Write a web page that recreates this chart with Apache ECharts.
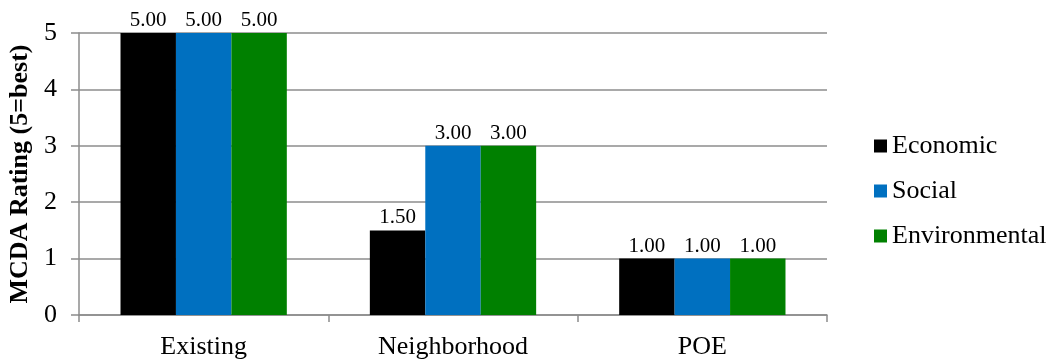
<!DOCTYPE html>
<html>
<head>
<meta charset="utf-8">
<script src="https://cdn.jsdelivr.net/npm/echarts@6/dist/echarts.min.js"></script>
<style>
  html, body { margin: 0; padding: 0; background: #fff; }
  #chart { width: 1050px; height: 362px; }
</style>
</head>
<body>
<div id="chart"></div>
<script>
// Scenario categories and MCDA ratings per sustainability dimension
const categories = ['Existing', 'Neighborhood', 'POE'];
const economic = [5.0, 1.5, 1.0];
const social = [5.0, 3.0, 1.0];
const environmental = [5.0, 3.0, 1.0];
const seriesNames = ['Economic', 'Social', 'Environmental'];
const seriesColors = ['#000000', '#0070C0', '#008000'];

const serif = '"Liberation Serif", "Times New Roman", serif';
const gridGray = '#8c8c8c';

function barSeries(name, data, color) {
  return {
    name: name,
    type: 'bar',
    data: data,
    barGap: '0%',
    barCategoryGap: '33.3%',
    itemStyle: { color: color },
    label: {
      show: true,
      position: 'top',
      distance: 2,
      fontFamily: serif,
      fontSize: 21,
      color: '#000',
      formatter: p => p.value.toFixed(2)
    }
  };
}

const chart = echarts.init(document.getElementById('chart'), null, { renderer: 'canvas' });
chart.setOption({
  animation: false,
  backgroundColor: '#fff',
  textStyle: { fontFamily: serif, color: '#000' },
  grid: {
    left: 79, right: 223, top: 33, bottom: 47,
    containLabel: false,
    outerBoundsMode: 'none'
  },
  legend: {
    orient: 'vertical',
    left: 869,
    top: 128,
    itemWidth: 13,
    itemHeight: 13,
    itemGap: 19,
    icon: 'rect',
    textStyle: { fontFamily: serif, fontSize: 26, color: '#000' },
    data: seriesNames
  },
  xAxis: {
    type: 'category',
    data: categories,
    axisLine: { lineStyle: { color: gridGray, width: 1.5 } },
    axisTick: { show: true, length: 7, inside: false, lineStyle: { color: gridGray, width: 1.5 } },
    axisLabel: { fontFamily: serif, fontSize: 26, color: '#000', margin: 19 }
  },
  yAxis: {
    type: 'value',
    min: 0,
    max: 5,
    interval: 1,
    name: 'MCDA Rating (5=best)',
    nameLocation: 'middle',
    nameGap: 44,
    nameTextStyle: { fontFamily: serif, fontSize: 26, fontWeight: 'bold', color: '#000' },
    axisLine: { show: true, lineStyle: { color: gridGray, width: 1.5 } },
    axisTick: { show: true, length: 8, lineStyle: { color: gridGray, width: 1.5 } },
    axisLabel: { fontFamily: serif, fontSize: 26, color: '#000', margin: 22 },
    splitLine: { show: true, lineStyle: { color: gridGray, width: 1.5 } }
  },
  series: [
    barSeries(seriesNames[0], economic, seriesColors[0]),
    barSeries(seriesNames[1], social, seriesColors[1]),
    barSeries(seriesNames[2], environmental, seriesColors[2])
  ]
});
</script>
</body>
</html>
